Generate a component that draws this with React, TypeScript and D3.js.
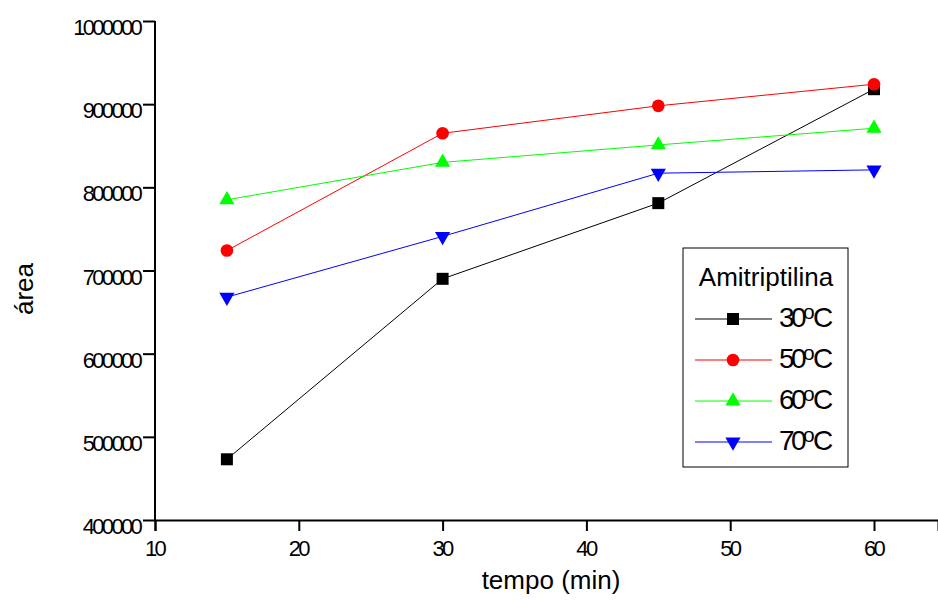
import React, { useEffect, useRef } from "react";
import * as d3 from "d3";

// valores
const tempo = [15, 30, 45, 60];
const temps = ["30", "50", "60", "70"];
const area30 = [473000, 690000, 781000, 918000];
const area50 = [724000, 865000, 898000, 924000];
const area60 = [785000, 830000, 851000, 871000];
const area70 = [668000, 741000, 817000, 821000];
const yTicks = [400000, 500000, 600000, 700000, 800000, 900000, 1000000];
const xTicks = [10, 20, 30, 40, 50, 60];

const colors = ["#000000", "#ff0000", "#00ff00", "#0000ff"];
const font = "'Liberation Sans', Arial, sans-serif";

const W = 938;
const H = 601;

export default function App() {
  const svgRef = useRef<SVGSVGElement>(null);

  useEffect(() => {
    const svg = d3.select(svgRef.current);
    svg.selectAll("*").remove();

    const x = d3.scaleLinear().domain([10, 64.45]).range([155, 938]);
    const y = d3.scaleLinear().domain([400000, 1000000]).range([520, 21]);

    const series = [area30, area50, area60, area70];
    const symbols = [
      d3.symbol().type(d3.symbolSquare).size(144),
      d3.symbol().type(d3.symbolCircle).size(125),
      d3.symbol().type(d3.symbolTriangle).size(100),
      d3.symbol().type(d3.symbolTriangle).size(100),
    ];

    // eixo y
    const gy = svg.append("g").attr("transform", "translate(155,0)");
    gy.call(
      d3.axisLeft(y).tickValues(d3.range(450000, 1000000, 100000)).tickSize(7).tickFormat(() => "")
    );
    gy.call(
      d3.axisLeft(y).tickValues(yTicks).tickSize(12).tickPadding(3).tickFormat((d) => String(d))
    );
    gy.select(".domain").attr("d", `M0,${y(1000000)}V${y(400000)}`);

    // eixo x
    const gx = svg.append("g").attr("transform", "translate(0,520)");
    gx.call(
      d3.axisBottom(x).tickValues([15, 25, 35, 45, 55]).tickSize(6).tickFormat(() => "")
    );
    gx.call(
      d3.axisBottom(x).tickValues(xTicks).tickSize(11).tickPadding(8).tickFormat((d) => String(d))
    );

    svg.selectAll(".domain").attr("stroke", "#000").attr("stroke-width", 2);
    svg.selectAll(".tick line").attr("stroke", "#000").attr("stroke-width", 2);
    svg
      .selectAll(".tick text")
      .attr("fill", "#000")
      .style("font-family", font)
      .style("font-size", "22px")
      .style("letter-spacing", "-2.7px");
    gy.selectAll(".tick text").attr("dy", "0.62em");
    gx.selectAll(".tick text").attr("dy", "0.75em").attr("dx", "-1");

    // linhas e símbolos
    series.forEach((vals, s) => {
      const pts = tempo.map((t, i) => [x(t), y(vals[i])] as [number, number]);
      svg
        .append("path")
        .attr("d", d3.line()(pts))
        .attr("fill", "none")
        .attr("stroke", colors[s])
        .attr("stroke-width", 1);
      svg
        .append("g")
        .selectAll("path")
        .data(pts)
        .enter()
        .append("path")
        .attr("d", symbols[s]() as string)
        .attr("fill", colors[s])
        .attr(
          "transform",
          (d) => `translate(${d[0]},${d[1]})` + (s === 3 ? " rotate(180)" : "")
        );
    });

    // títulos dos eixos
    svg
      .append("text")
      .attr("x", 551)
      .attr("y", 589)
      .attr("text-anchor", "middle")
      .style("font-family", font)
      .style("font-size", "26px")
      .text("tempo (min)");
    svg
      .append("text")
      .attr("transform", "translate(33,289) rotate(-90)")
      .attr("text-anchor", "middle")
      .style("font-family", font)
      .style("font-size", "26px")
      .text("área");

    // legenda
    const lg = svg.append("g").attr("transform", "translate(683,248)");
    lg.append("rect")
      .attr("width", 165)
      .attr("height", 219)
      .attr("fill", "#fff")
      .attr("stroke", "#000")
      .attr("stroke-width", 1);
    lg.append("text")
      .attr("x", 83)
      .attr("y", 38)
      .attr("text-anchor", "middle")
      .style("font-family", font)
      .style("font-size", "26px")
      .text("Amitriptilina");
    temps.forEach((t, i) => {
      const row = lg.append("g").attr("transform", `translate(0,${71 + i * 41})`);
      row.append("line")
        .attr("x1", 12)
        .attr("x2", 89)
        .attr("stroke", colors[i])
        .attr("stroke-width", 1);
      row.append("path")
        .attr("d", symbols[i]() as string)
        .attr("fill", colors[i])
        .attr("transform", `translate(50,0)` + (i === 3 ? " rotate(180)" : ""));
      row.append("text")
        .attr("x", 96)
        .attr("y", 8)
        .style("font-family", font)
        .style("font-size", "28px")
        .style("letter-spacing", "-3.5px")
        .text(t);
      row.append("text")
        .attr("x", 120)
        .attr("y", 0)
        .style("font-family", font)
        .style("font-size", "21px")
        .text("o");
      row.append("text")
        .attr("x", 130)
        .attr("y", 8)
        .style("font-family", font)
        .style("font-size", "28px")
        .text("C");
    });
  }, []);

  return (
    <svg
      ref={svgRef}
      width={W}
      height={H}
      style={{ position: "absolute", left: 0, top: 0, background: "#fff" }}
    />
  );
}
